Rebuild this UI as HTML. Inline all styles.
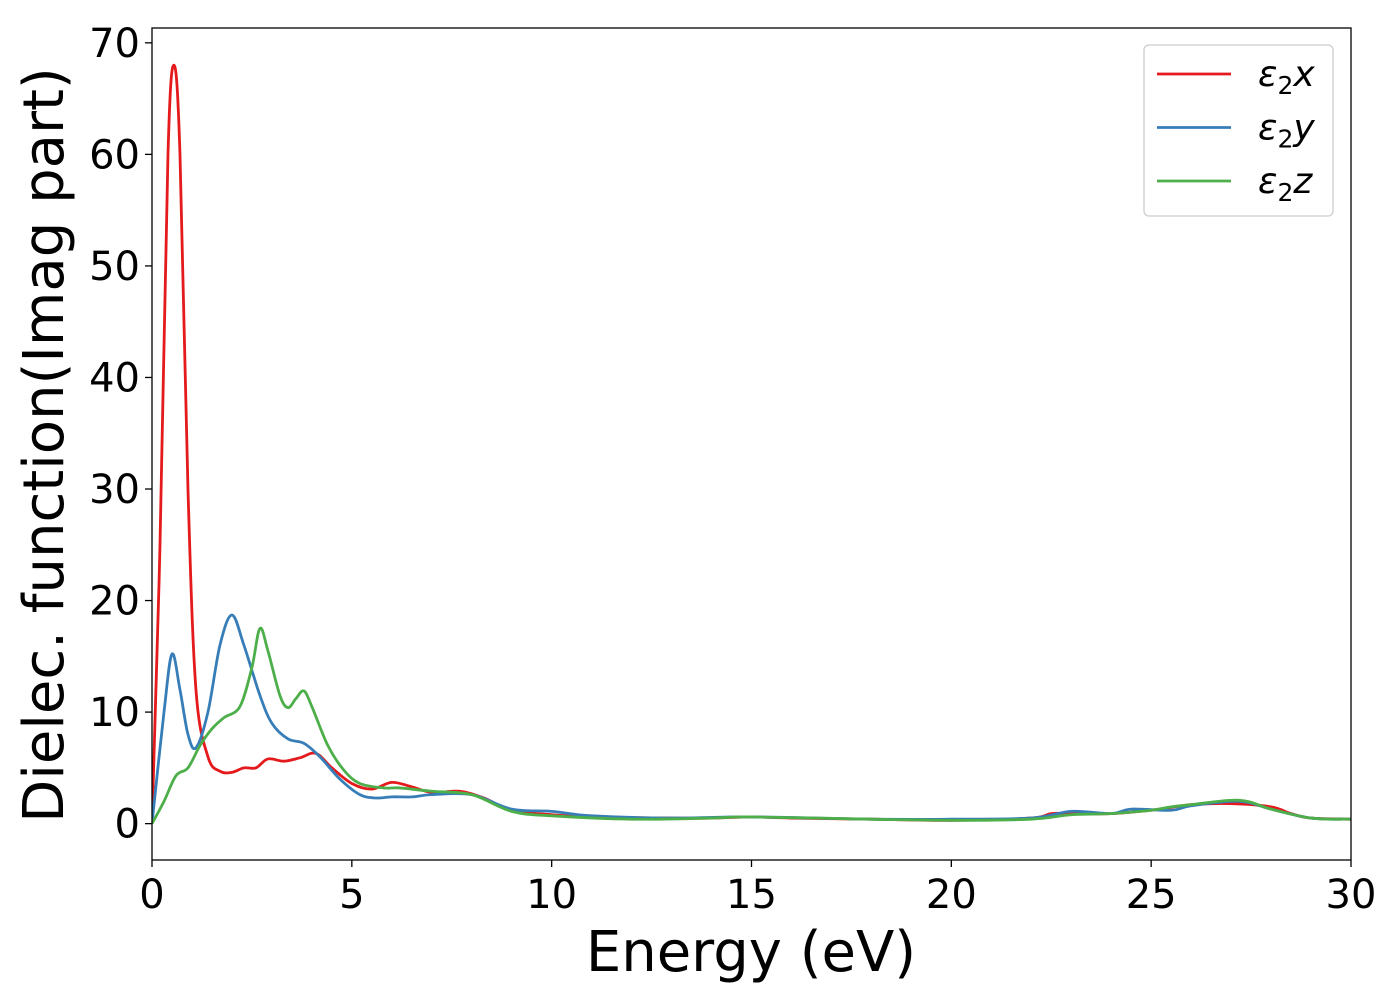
<!DOCTYPE html>
<html><head><meta charset="utf-8"><style>
html,body{margin:0;padding:0;background:#fff;}
svg text{font-family:"DejaVu Sans","Liberation Sans",sans-serif;fill:#000;}
</style></head><body>
<svg id="chart" width="1400" height="1000" xmlns="http://www.w3.org/2000/svg">
<g id="plot"></g>
</svg>
<script>
const xTicks=[0,5,10,15,20,25,30];
const yTicks=[0,10,20,30,40,50,60,70];
const xE=[0,0.2,0.4,0.55,0.7,0.9,1.1,1.4,1.7,2.0,2.3,2.6,2.9,3.3,3.7,4.1,4.5,5.0,5.5,6.0,6.5,7,7.7,8.3,9,10,11,13,14,15,16,18,20,22,22.5,23,24,25,26,27,28,28.5,29,30];
const xV=[0,25,60,68,60,30,12,6,4.7,4.6,5.0,5.0,5.8,5.6,5.9,6.3,5,3.6,3.1,3.7,3.3,2.8,2.9,2.3,1.2,0.8,0.6,0.5,0.5,0.6,0.5,0.4,0.3,0.5,0.9,0.9,0.9,1.2,1.7,1.8,1.5,0.9,0.5,0.4];
const yE=[0,0.3,0.5,0.7,0.9,1.1,1.4,1.7,2.0,2.3,2.7,3.0,3.4,3.8,4.2,4.7,5.2,5.6,6,6.5,7,8,9,10,11,13,15,18,20,22,23,24,24.5,25.5,26,27.2,28,29,30];
const yV=[0,10,15.2,12,8,6.8,10,16,18.7,16,11.5,9,7.6,7.2,6,4,2.6,2.3,2.4,2.4,2.6,2.6,1.3,1.1,0.7,0.5,0.6,0.4,0.4,0.5,1.1,0.9,1.3,1.2,1.6,2.0,1.3,0.5,0.4];
const zE=[0,0.3,0.6,0.9,1.2,1.5,1.8,2.2,2.5,2.7,2.9,3.2,3.4,3.6,3.8,4.0,4.4,4.8,5.2,5.8,6.2,7,8,9,10,12,14,15,18,20,22,23,24,25,25.5,26,27.2,28,29,30];
const zV=[0,2,4.3,5,7,8.5,9.5,10.5,14,17.5,15.5,11.5,10.4,11.2,11.9,10.5,7,4.8,3.6,3.2,3.2,2.9,2.6,1.1,0.7,0.4,0.5,0.6,0.4,0.3,0.4,0.8,0.9,1.2,1.5,1.7,2.1,1.3,0.5,0.4];
const L=152,R=1351,T=28,B=860;
const xMin=0,xMax=30,yMin=-3.26,yMax=71.33;
function sx(v){return L+(v-xMin)/(xMax-xMin)*(R-L);}
function sy(v){return B-(v-yMin)/(yMax-yMin)*(B-T);}
const NS="http://www.w3.org/2000/svg";
const svg=document.getElementById('chart');
function mk(tag,attrs,parent){const e=document.createElementNS(NS,tag);for(const k in attrs)e.setAttribute(k,attrs[k]);(parent||svg).appendChild(e);return e;}
function pathFor(E,V){
  const p=E.map((e,i)=>[sx(e),sy(V[i])]);
  let d=`M${p[0][0]},${p[0][1]}`;
  for(let i=0;i<p.length-1;i++){
    const p0=p[Math.max(0,i-1)],p1=p[i],p2=p[i+1],p3=p[Math.min(p.length-1,i+2)];
    const c1=[p1[0]+(p2[0]-p0[0])/6,p1[1]+(p2[1]-p0[1])/6];
    const c2=[p2[0]-(p3[0]-p1[0])/6,p2[1]-(p3[1]-p1[1])/6];
    d+=` C${c1[0]},${c1[1]} ${c2[0]},${c2[1]} ${p2[0]},${p2[1]}`;
  }
  return d;
}
const clip=mk('clipPath',{id:'cp'});mk('rect',{x:L,y:T,width:R-L,height:B-T},clip);
const series=[[xE,xV,'#e41a1c','series-e2x'],[yE,yV,'#377eb8','series-e2y'],[zE,zV,'#4daf4a','series-e2z']];
for(const s of series){
  const p=mk('path',{d:pathFor(s[0],s[1]),fill:'none',stroke:s[2],'stroke-width':2.8,'clip-path':'url(#cp)'});
  
  
}
const frame=mk('rect',{x:L,y:T,width:R-L,height:B-T,fill:'none',stroke:'#000','stroke-width':1.3});


for(const t of xTicks){
  mk('line',{x1:sx(t),x2:sx(t),y1:B,y2:B+7,stroke:'#000','stroke-width':1.3});
  const tx=mk('text',{x:sx(t),y:B+48,'text-anchor':'middle','font-size':40});tx.textContent=t;
  
  
}
for(const t of yTicks){
  mk('line',{x1:L-7,x2:L,y1:sy(t),y2:sy(t),stroke:'#000','stroke-width':1.3});
  const tx=mk('text',{x:L-12,y:sy(t)+14,'text-anchor':'end','font-size':40});tx.textContent=t;
  
  
}
const xl=mk('text',{x:751,y:971,'text-anchor':'middle','font-size':56});xl.textContent='Energy (eV)';


const yl=mk('text',{x:0,y:0,'text-anchor':'middle','font-size':56,transform:'translate(63,445) rotate(-90)'});yl.textContent='Dielec. function(Imag part)';


const lg=mk('g',{});


mk('rect',{x:1144,y:45,width:189,height:171,rx:5,fill:'#fff',stroke:'#ccc','stroke-width':1.3},lg);
const labs=['x','y','z'];
for(let i=0;i<3;i++){
  const y=74+i*53.5;
  mk('line',{x1:1157,x2:1231,y1:y,y2:y,stroke:series[i][2],'stroke-width':2.8},lg);
  const t=mk('text',{x:1258,y:y+12,'font-size':36,'font-style':'italic'},lg);
  t.innerHTML='ε<tspan font-style="normal" font-size="25" dy="8">2</tspan><tspan dy="-8">'+labs[i]+'</tspan>';
  
  
}
</script>
</body></html>
